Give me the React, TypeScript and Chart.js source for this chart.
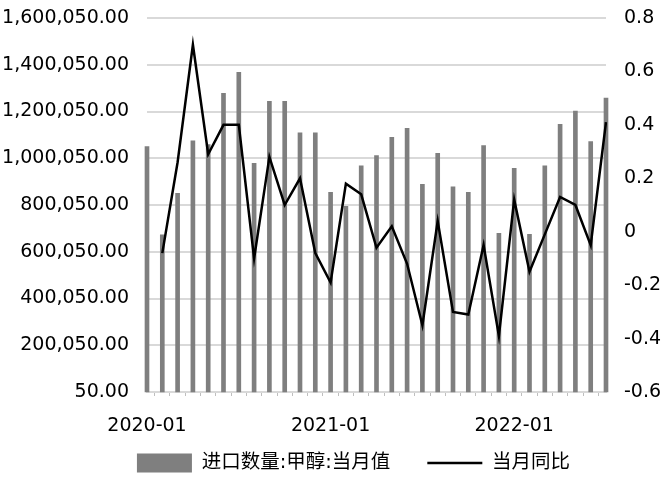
import React, { useEffect, useRef } from "react";
import { Chart, registerables } from "chart.js";

Chart.register(...registerables);

const months = [
  "2020-01", "2020-02", "2020-03", "2020-04", "2020-05", "2020-06",
  "2020-07", "2020-08", "2020-09", "2020-10", "2020-11", "2020-12",
  "2021-01", "2021-02", "2021-03", "2021-04", "2021-05", "2021-06",
  "2021-07", "2021-08", "2021-09", "2021-10", "2021-11", "2021-12",
  "2022-01", "2022-02", "2022-03", "2022-04", "2022-05", "2022-06",
  "2022-07",
];

const importVolume = [
  1050000, 672000, 850000, 1075000, 1058000, 1278000, 1368000, 978000,
  1244000, 1244000, 1109000, 1109000, 854000, 794000, 968000, 1011000,
  1090000, 1128000, 889000, 1021000, 878000, 854000, 1054000, 679000,
  957000, 675000, 968000, 1145000, 1202000, 1071000, 1257000,
];

const yoy = [
  null, -0.08, 0.26, 0.7, 0.29, 0.4, 0.4, -0.1, 0.28, 0.1, 0.2, -0.08,
  -0.19, 0.18, 0.14, -0.06, 0.02, -0.12, -0.35, 0.04, -0.3, -0.31, -0.05,
  -0.39, 0.12, -0.15, -0.01, 0.13, 0.1, -0.05, 0.41,
];

const leftTicks = [50, 200050, 400050, 600050, 800050, 1000050, 1200050, 1400050, 1600050];
const rightTicks = [-0.6, -0.4, -0.2, 0, 0.2, 0.4, 0.6, 0.8];

const barLabel = "进口数量:甲醇:当月值";
const lineLabel = "当月同比";

const BAR_COLOR = "#7f7f7f";
const FONT = '"DejaVu Sans", "Noto Sans CJK SC", sans-serif';
const LEGEND_FONT_SIZE = 19.5;
const LEGEND_PADDING = 37;
const LEGEND_CENTER_X = 353.5;
const LEGEND_CENTER_Y = 463;

const legendShift = {
  id: "legendShift",
  afterLayout(chart: any) {
    const lg = chart.legend;
    if (!lg) return;
    const dx = LEGEND_CENTER_X - (lg.left + lg.right) / 2;
    const dy = LEGEND_CENTER_Y - (lg.top + LEGEND_PADDING + LEGEND_FONT_SIZE / 2);
    lg.left += dx;
    lg.right += dx;
    lg.top += dy;
  },
};

export default function App() {
  const canvasRef = useRef<HTMLCanvasElement | null>(null);

  useEffect(() => {
    const canvas = canvasRef.current;
    if (!canvas) return;
    const chart = new Chart(canvas, {
      type: "bar",
      data: {
        labels: months,
        datasets: [
          {
            type: "bar",
            label: barLabel,
            data: importVolume,
            backgroundColor: BAR_COLOR,
            borderWidth: 0,
            barThickness: 4,
            yAxisID: "y",
            order: 2,
            clip: false,
          } as any,
          {
            type: "line",
            label: lineLabel,
            data: yoy,
            borderColor: "#000000",
            backgroundColor: "#000000",
            borderWidth: 2.5,
            pointRadius: 0,
            tension: 0,
            yAxisID: "y1",
            order: 1,
          } as any,
        ],
      },
      plugins: [legendShift],
      options: {
        animation: false,
        responsive: false,
        layout: { padding: { left: 0, right: 0, top: 18, bottom: 0 } },
        plugins: {
          tooltip: { enabled: false },
          legend: {
            position: "bottom",
            maxHeight: 42,
            labels: {
              usePointStyle: true,
              pointStyleWidth: 55,
              boxHeight: 19,
              padding: LEGEND_PADDING,
              color: "#000",
              font: { family: FONT, size: LEGEND_FONT_SIZE },
              generateLabels: (c: any) => {
                const items = (Chart.defaults.plugins.legend.labels as any).generateLabels(c);
                items.sort((a: any, b: any) => a.datasetIndex - b.datasetIndex);
                return items.map((it: any) =>
                  it.datasetIndex === 0
                    ? { ...it, pointStyle: "rect", lineWidth: 0, fillStyle: BAR_COLOR, strokeStyle: BAR_COLOR }
                    : { ...it, pointStyle: "line", lineWidth: 2.5, strokeStyle: "#000", fillStyle: "#000" }
                );
              },
            },
          },
        },
        scales: {
          x: {
            type: "category",
            offset: false,
            grid: { drawOnChartArea: false, drawTicks: true, tickLength: 4, color: "#bfbfbf" },
            border: { color: "#d9d9d9", width: 2 },
            ticks: {
              autoSkip: false,
              maxRotation: 0,
              minRotation: 0,
              padding: 19,
              color: "#000",
              font: { family: FONT, size: 19 },
              callback: (_v: any, i: number) => (i % 12 === 0 ? months[i] : ""),
            },
            afterFit: (s: any) => {
              s.height = 46;
            },
          },
          y: {
            type: "linear",
            position: "left",
            min: 50,
            max: 1600050,
            grid: { color: "#d9d9d9", lineWidth: 2, drawTicks: true, tickLength: 18, tickColor: "rgba(0,0,0,0)" },
            border: { display: false },
            ticks: {
              padding: 0,
              color: "#000",
              font: { family: FONT, size: 19 },
              callback: (v: any) =>
                Number(v).toLocaleString("en-US", { minimumFractionDigits: 2, maximumFractionDigits: 2 }),
            },
            afterBuildTicks: (s: any) => {
              s.ticks = leftTicks.map((v) => ({ value: v }));
            },
            afterFit: (s: any) => {
              s.width = 147;
            },
          },
          y1: {
            type: "linear",
            position: "right",
            min: -0.6,
            max: 0.8,
            grid: { drawOnChartArea: false, drawTicks: true, tickLength: 18, tickColor: "rgba(0,0,0,0)" },
            border: { display: false },
            ticks: {
              padding: 0,
              color: "#000",
              font: { family: FONT, size: 19 },
              callback: (v: any) => String(Math.round(Number(v) * 10) / 10),
            },
            afterBuildTicks: (s: any) => {
              s.ticks = rightTicks.map((v) => ({ value: v }));
            },
            afterFit: (s: any) => {
              s.width = 65;
            },
          },
        },
      } as any,
    });
    return () => chart.destroy();
  }, []);

  return (
    <div style={{ position: "absolute", left: 0, top: 0, width: 671, height: 480, background: "#fff" }}>
      <canvas ref={canvasRef} width={671} height={480} style={{ display: "block" }} />
    </div>
  );
}
